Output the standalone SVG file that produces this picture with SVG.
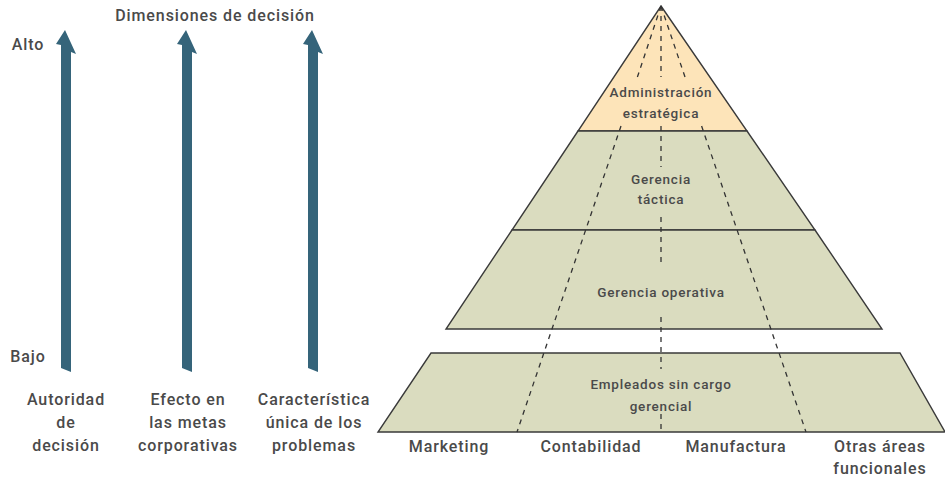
<svg xmlns="http://www.w3.org/2000/svg" width="945" height="483" viewBox="0 0 945 483">
<style>
text{font-family:Roboto,"Liberation Sans",sans-serif;fill:#4a4a4a;text-anchor:middle;font-weight:500}
.lab{font-size:16px;letter-spacing:0.9px}
.pl{font-size:13.5px;letter-spacing:0.8px}
.arr{fill:#35647a}
.band{stroke:#3a3a3a;stroke-width:1.4;stroke-linejoin:miter}
.green{fill:#dadcbf}
.orange{fill:#fde4b9}
.dash{fill:none;stroke:#333;stroke-width:1.3;stroke-dasharray:5 5}
</style>
<rect width="945" height="483" fill="#fff"/>
<g id="title"><text class="lab" x="215" y="21">Dimensiones de decisión</text></g>
<g id="scale">
<text class="lab" x="28" y="50">Alto</text>
<text class="lab" x="28" y="362">Bajo</text>
</g>
<g id="arrow-autoridad">
<polygon class="arr" points="65,30 56,44 61,45 61,368 71,372 71,52 76,54"/>
<text class="lab" x="66" y="405">Autoridad</text>
<text class="lab" x="66" y="428">de</text>
<text class="lab" x="66" y="451">decisión</text>
</g>
<g id="arrow-efecto">
<polygon class="arr" points="186,30 177,44 182,45 182,368 192,372 192,52 197,54"/>
<text class="lab" x="188" y="405">Efecto en</text>
<text class="lab" x="188" y="428">las metas</text>
<text class="lab" x="188" y="451">corporativas</text>
</g>
<g id="arrow-caracteristica">
<polygon class="arr" points="312,30 303,44 308,45 308,368 318,372 318,52 323,54"/>
<text class="lab" x="314" y="405">Característica</text>
<text class="lab" x="314" y="428">única de los</text>
<text class="lab" x="314" y="451">problemas</text>
</g>
<g id="estrategica"><polygon class="band orange" points="661,6 747,131 578,131"/></g>
<g id="tactica"><polygon class="band green" points="578,131 747,131 815,230 512,230"/></g>
<g id="operativa"><polygon class="band green" points="512,230 815,230 882,329 446,329"/></g>
<g id="empleados"><polygon class="band green" points="431,353 900,353 945,432 378,432"/></g>
<g id="connectors">
<path class="dash" d="M661,6 V77 M661,126 V167 M661,217 V267 M661,317 V369 M661,414 V432"/>
<path class="dash" d="M661,6 L637.4,77 M621,126 L517,432"/>
<path class="dash" d="M661,6 L685,77 M701.6,126 L806,432"/>
</g>
<g id="labels">
<text class="pl" x="661" y="97">Administración</text>
<text class="pl" x="661" y="118">estratégica</text>
<text class="pl" x="661" y="184">Gerencia</text>
<text class="pl" x="661" y="204">táctica</text>
<text class="pl" x="661" y="297">Gerencia operativa</text>
<text class="pl" x="661" y="389">Empleados sin cargo</text>
<text class="pl" x="661" y="411">gerencial</text>
</g>
<g id="areas">
<text class="lab" x="449" y="452">Marketing</text>
<text class="lab" x="591" y="452">Contabilidad</text>
<text class="lab" x="736" y="452">Manufactura</text>
<text class="lab" x="880" y="452">Otras áreas</text>
<text class="lab" x="880" y="474">funcionales</text>
</g>
</svg>
